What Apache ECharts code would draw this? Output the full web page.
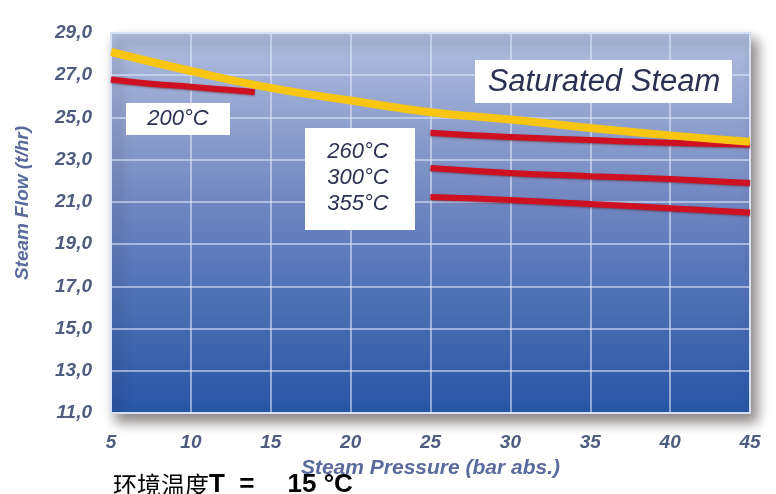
<!DOCTYPE html>
<html>
<head>
<meta charset="utf-8">
<script src="https://cdn.jsdelivr.net/npm/echarts@6/dist/echarts.min.js"></script>
<style>html,body{margin:0;padding:0;background:#fff;}#c{width:776px;height:494px;}</style>
</head>
<body>
<div id="c"></div>
<script>
// Data
var pressureTicks = [5, 10, 15, 20, 25, 30, 35, 40, 45];
var saturatedP    = [5, 10, 15, 20, 25, 30, 35, 40, 45];
var saturatedFlow = [28.1, 27.2, 26.4, 25.8, 25.25, 24.9, 24.5, 24.15, 23.85];
var t200P    = [5, 7.5, 10, 12.5, 14];
var t200Flow = [26.8, 26.6, 26.45, 26.3, 26.2];
var t260P    = [25, 30, 35, 40, 45];
var t260Flow = [24.28, 24.07, 23.93, 23.8, 23.72];
var t300P    = [25, 30, 35, 40, 45];
var t300Flow = [22.6, 22.37, 22.22, 22.08, 21.9];
var t355P    = [25, 30, 35, 40, 45];
var t355Flow = [21.23, 21.09, 20.9, 20.7, 20.5];
var flowMin = 11, flowMax = 29, flowStep = 2;

function pairs(xs, ys) { return xs.map(function (x, i) { return [x, ys[i]]; }); }

var FONT = "'Liberation Sans Narrow', 'Liberation Sans', Arial, sans-serif";
var axisText = { color: '#4f5c80', fontStyle: 'italic', fontWeight: 'bold', fontFamily: FONT, fontSize: 19 };

var chart = echarts.init(document.getElementById('c'));
var redLine = { color: '#cf1020', width: 6, shadowColor: 'rgba(90,0,0,0.45)', shadowBlur: 2, shadowOffsetY: 1 };

chart.setOption({
  animation: false,
  grid: {
    show: true, left: 111, right: 26, top: 33, bottom: 81,
    containLabel: false, outerBoundsMode: 'none',
    backgroundColor: new echarts.graphic.LinearGradient(0, 0, 0, 1, [
      { offset: 0, color: '#b1bedd' },
      { offset: 0.45, color: '#6f86c0' },
      { offset: 1, color: '#2755a6' }
    ]),
    borderColor: '#c9d3ec', borderWidth: 2,
    shadowColor: 'rgba(40,30,30,0.55)', shadowBlur: 12, shadowOffsetX: 6, shadowOffsetY: 8
  },
  xAxis: {
    type: 'value', min: pressureTicks[0], max: pressureTicks[pressureTicks.length - 1], interval: 5,
    axisLine: { show: false }, axisTick: { show: false },
    axisLabel: Object.assign({ margin: 20 }, axisText),
    splitLine: { lineStyle: { color: 'rgba(225,232,252,0.75)', width: 1.5 } },
    name: 'Steam Pressure (bar abs.)', nameLocation: 'middle', nameGap: 45,
    nameTextStyle: { color: '#5a6a9c', fontStyle: 'italic', fontWeight: 'bold', fontFamily: FONT, fontSize: 21 }
  },
  yAxis: {
    type: 'value', min: flowMin, max: flowMax, interval: flowStep,
    axisLine: { show: false }, axisTick: { show: false },
    axisLabel: Object.assign({ margin: 19, formatter: function (v) { return v.toFixed(1).replace('.', ','); } }, axisText),
    splitLine: { lineStyle: { color: 'rgba(225,232,252,0.75)', width: 1.5 } },
    name: 'Steam Flow (t/hr)', nameLocation: 'middle', nameGap: 79,
    nameTextStyle: { color: '#5a6a9c', fontStyle: 'italic', fontWeight: 'bold', fontFamily: FONT, fontSize: 19, padding: [0, 0, 0, 40] }
  },
  series: [
    { name: '200°C', type: 'line', smooth: true, symbol: 'none', z: 2, data: pairs(t200P, t200Flow), lineStyle: redLine },
    { name: '260°C', type: 'line', smooth: true, symbol: 'none', z: 2, data: pairs(t260P, t260Flow), lineStyle: redLine },
    { name: '300°C', type: 'line', smooth: true, symbol: 'none', z: 2, data: pairs(t300P, t300Flow), lineStyle: redLine },
    { name: '355°C', type: 'line', smooth: true, symbol: 'none', z: 2, data: pairs(t355P, t355Flow), lineStyle: redLine },
    { name: 'Saturated Steam', type: 'line', smooth: true, symbol: 'none', z: 3, data: pairs(saturatedP, saturatedFlow),
      lineStyle: { color: '#f7c512', width: 8 } }
  ],
  graphic: [
    { type: 'rect', z: 10, shape: { x: 126, y: 103, width: 104, height: 32 }, style: { fill: '#ffffff' } },
    { type: 'text', z: 11, style: { text: '200°C', x: 178, y: 119, align: 'center', verticalAlign: 'middle',
      fill: '#2b3152', font: "italic 22px " + FONT } },
    { type: 'rect', z: 10, shape: { x: 305, y: 128, width: 110, height: 102 }, style: { fill: '#ffffff' } },
    { type: 'text', z: 11, style: { text: '260°C\n300°C\n355°C', x: 358, y: 178, align: 'center', verticalAlign: 'middle',
      lineHeight: 26, fill: '#2b3152', font: "italic 22px " + FONT } },
    { type: 'rect', z: 10, shape: { x: 475, y: 60, width: 257, height: 43 }, style: { fill: '#ffffff' } },
    { type: 'text', z: 11, style: { text: 'Saturated Steam', x: 604, y: 82, align: 'center', verticalAlign: 'middle',
      fill: '#2b3152', font: "italic 31px " + FONT } },
    { type: 'text', z: 20, style: { x: 113, y: 485, verticalAlign: 'middle',
      text: '{a|环境温度}{b|T  =}{s|}{b|15 °C}',
      rich: {
        a: { fontFamily: "'Noto Sans CJK SC', sans-serif", fontSize: 24, fill: '#000' },
        b: { fontFamily: "'Liberation Sans', Arial, sans-serif", fontWeight: 'bold', fontSize: 26, fill: '#000' },
        s: { width: 33 }
      } } }
  ]
});
</script>
</body>
</html>
